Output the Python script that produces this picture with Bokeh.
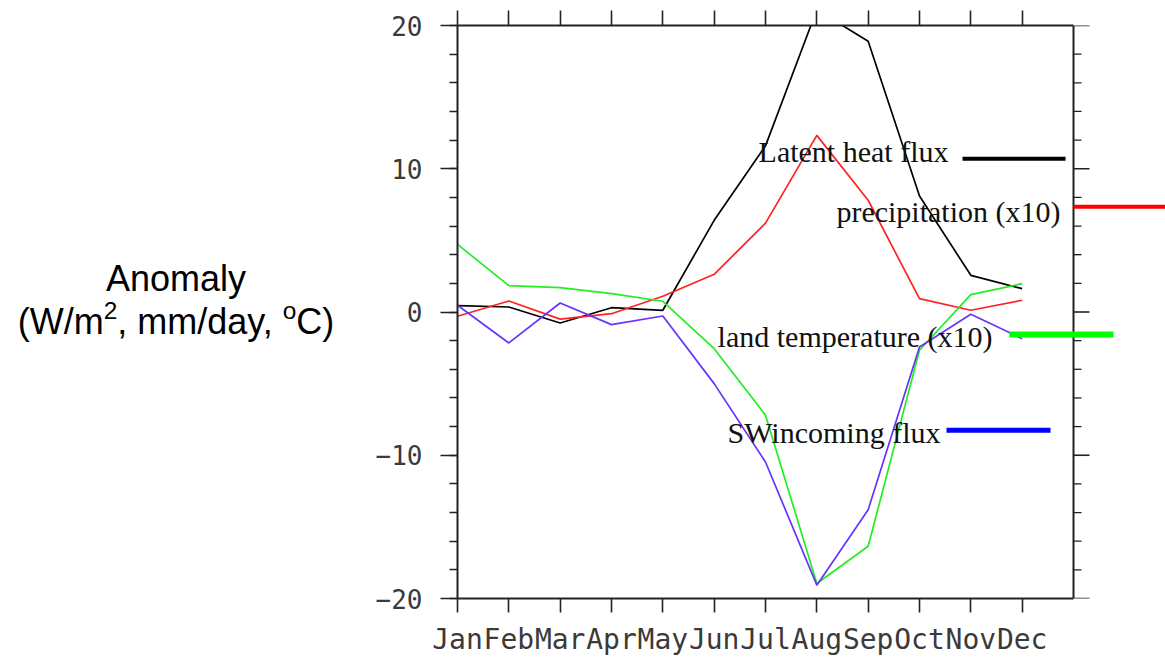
from bokeh.plotting import figure
from bokeh.models import Range1d, LinearAxis, FixedTicker, SingleIntervalTicker, Label, Arrow, Div
from bokeh.layouts import row
from bokeh.embed import file_html
from bokeh.resources import INLINE

# ---------------- data ----------------
months = ["Jan", "Feb", "Mar", "Apr", "May", "Jun", "Jul", "Aug", "Sep", "Oct", "Nov", "Dec"]
month_idx = list(range(1, 13))
latent_heat = [0.45, 0.35, -0.77, 0.30, 0.12, 6.4, 11.6, 21.1, 18.9, 8.1, 2.56, 1.63]
precip_x10 = [-0.30, 0.77, -0.50, -0.12, 1.10, 2.63, 6.2, 12.33, 7.8, 0.93, 0.12, 0.82]
land_temp_x10 = [4.72, 1.84, 1.70, 1.28, 0.75, -2.56, -7.2, -18.95, -16.35, -2.67, 1.21, 1.98]
sw_incoming = [0.47, -2.16, 0.63, -0.88, -0.28, -5.0, -10.47, -19.07, -13.8, -2.44, -0.16, -1.86]
y_ticks = [-20, -10, 0, 10, 20]
y_tick_labels = ["\u221220", "\u221210", "0", "10", "20"]
series_labels = ["Latent heat flux", "precipitation (x10)", "land temperature (x10)", "SWincoming flux"]
SUP = '<sup style="font-size:0.68em; line-height:0; vertical-align:0.6em;">'
y_title_html = "Anomaly<br>(W/m" + SUP + "2</sup>, mm/day, " + SUP + "o</sup>C)"

# ---------------- layout (pixels) ----------------
W, H = 1165, 658
DIV_W = 360                                  # left column holding the y title
FL, FR, FT, FB = 457, 1073, 25, 599          # drawn box (window coords)
X0, X1, Y0, Y1 = 1, 13, -20, 20
PXX = (FR - FL) / (X1 - X0)                  # px per x unit
X_END = X1 + (W - FR) / PXX                  # frame extends to the window edge


def px2x(px):
    return X0 + (px - FL) / PXX


def px2y(py):
    return Y1 - (py - FT) * (Y1 - Y0) / (FB - FT)


p = figure(width=W - DIV_W, height=H, x_range=Range1d(X0, X_END), y_range=Range1d(Y0, Y1),
           min_border_left=FL - DIV_W, min_border_right=0, min_border_top=FT,
           min_border_bottom=H - FB, x_axis_location=None, y_axis_location=None,
           output_backend="svg", toolbar_location=None)
p.grid.visible = False
p.outline_line_color = None
p.background_fill_color = "white"
p.border_fill_color = "white"

AX_COL = "#222222"
LBL_COL = "#3a3a3a"


def style_axis(ax, tick_out, minor_out):
    ax.axis_line_color = AX_COL
    ax.axis_line_width = 2
    ax.major_tick_line_color = AX_COL
    ax.major_tick_line_width = 1.6
    ax.minor_tick_line_color = AX_COL
    ax.minor_tick_line_width = 1.3
    ax.major_tick_in = 0
    ax.major_tick_out = tick_out
    ax.minor_tick_in = 0
    ax.minor_tick_out = minor_out
    ax.major_label_text_font = "DejaVu Sans Mono"
    ax.major_label_text_font_size = "28px"
    ax.major_label_text_color = LBL_COL


bottom = LinearAxis(ticker=FixedTicker(ticks=month_idx), bounds=(X0, X1),
                    major_label_overrides={i: m for i, m in zip(month_idx, months)})
style_axis(bottom, 14, 0)
bottom.major_label_standoff = 10

top = LinearAxis(ticker=FixedTicker(ticks=month_idx), bounds=(X0, X1),
                 major_label_overrides={i: "" for i in month_idx})
style_axis(top, 15, 0)
top.major_label_text_color = None
top.major_label_text_font_size = "1px"
top.major_label_standoff = 0

left = LinearAxis(ticker=SingleIntervalTicker(interval=10, num_minor_ticks=5),
                  major_label_overrides={v: s for v, s in zip(y_ticks, y_tick_labels)})
style_axis(left, 17, 8)
left.major_label_text_font_size = "26px"
left.major_label_standoff = 18

p.add_layout(bottom, "below")
p.add_layout(top, "above")
p.add_layout(left, "left")

# right-hand axis drawn inside the wider frame
minor_vals = [v for v in range(Y0, Y1 + 1, 2) if v % 10 != 0]
p.segment(x0=[X1], y0=[Y0], x1=[X1], y1=[Y1], line_color=AX_COL, line_width=2)
p.segment(x0=[X1] * len(y_ticks), y0=y_ticks, x1=[X1 + 16 / PXX] * len(y_ticks), y1=y_ticks,
          line_color=AX_COL, line_width=1.6)
p.segment(x0=[X1] * len(minor_vals), y0=minor_vals, x1=[X1 + 8 / PXX] * len(minor_vals),
          y1=minor_vals, line_color=AX_COL, line_width=1.3)

# ---------------- series ----------------
curve_cols = ["#000000", "#ff2222", "#22ee22", "#6633ff"]
series = [latent_heat, precip_x10, land_temp_x10, sw_incoming]
for ys, c in zip(series, curve_cols):
    p.line(month_idx, ys, line_color=c, line_width=1.7)

# ---------------- in-plot labels with bars ----------------
text_pos = [(948, 151), (1060, 211), (992, 337), (940, 433)]
bar_pos = [(962, 1065, 158.5, 4, "#000000"),
           (1073, 1165, 206.5, 4, "#ff0000"),
           (1009, 1113, 334.5, 6, "#00ff00"),
           (946, 1050, 430.5, 5, "#0000ff")]
for txt, (tx, ty), (bx0, bx1, by, bw, bc) in zip(series_labels, text_pos, bar_pos):
    p.add_layout(Label(x=px2x(tx), y=px2y(ty), text=txt, text_align="right",
                       text_baseline="alphabetic", text_font="Liberation Serif",
                       text_font_size="30px", text_color="#111111"))
    p.add_layout(Arrow(start=None, end=None, x_start=px2x(bx0), y_start=px2y(by),
                       x_end=px2x(bx1), y_end=px2y(by), line_color=bc, line_width=bw))

# ---------------- y title (left column) ----------------
title_div = Div(
    text=('<div style="padding-top:257px; width:352px; text-align:center; '
          'font-family:\'Liberation Sans\', Arial, sans-serif; font-size:36px; '
          'line-height:43px; color:#000;">' + y_title_html + '</div>'),
    width=DIV_W, height=H, styles={"margin": "0", "padding": "0"})

layout = row(title_div, p, spacing=0)
open("out.html", "w").write(file_html(layout, INLINE))
